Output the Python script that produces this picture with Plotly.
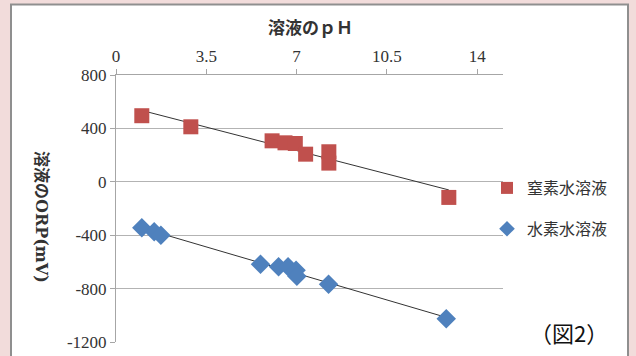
import numpy as np
import plotly.graph_objects as go

# 窒素水溶液 (nitrogen solution)
n2_ph = [1.0, 2.9, 6.05, 6.55, 6.95, 7.35, 8.25, 8.25, 12.9]
n2_orp = [495, 412, 307, 292, 287, 207, 225, 140, -117]
# 水素水溶液 (hydrogen solution)
h2_ph = [1.0, 1.48, 1.74, 5.6, 6.3, 6.67, 6.98, 7.01, 8.24, 12.8]
h2_orp = [-345, -375, -400, -617, -637, -637, -662, -707, -767, -1025]

x_ticks = [0, 3.5, 7, 10.5, 14]
y_ticks = [800, 400, 0, -400, -800, -1200]
y_ticktext = [str(v) for v in y_ticks]

RED = "#c0504d"
BLUE = "#4f81bd"
SERIF = "Liberation Serif"
SERIF_B = "DejaVu Serif, Noto Sans CJK JP, serif"
SANS = "Noto Sans CJK JP, Noto Sans, sans-serif"

W, H = 636, 356
L, R, T, B = 116, 133, 75, 14
pw, ph = W - L - R, H - T - B


def px2paper_x(x):
    return (x - L) / pw


def px2paper_y(y):
    return (H - B - y) / ph


fig = go.Figure()


def trend(xs, ys):
    k, b = np.polyfit(xs, ys, 1)
    xx = np.array([min(xs), max(xs)])
    return xx, k * xx + b


tx, ty = trend(n2_ph, n2_orp)
fig.add_trace(go.Scatter(x=tx, y=ty, mode="lines", line=dict(color="#333333", width=1),
                         showlegend=False, hoverinfo="skip"))
tx, ty = trend(h2_ph, h2_orp)
fig.add_trace(go.Scatter(x=tx, y=ty, mode="lines", line=dict(color="#333333", width=1),
                         showlegend=False, hoverinfo="skip"))

fig.add_trace(go.Scatter(x=n2_ph, y=n2_orp, mode="markers", name="窒素水溶液",
                         legendgroup="a",
                         marker=dict(symbol="square", size=15, color=RED)))
fig.add_trace(go.Scatter(x=h2_ph, y=h2_orp, mode="markers", name="水素水溶液",
                         legendgroup="b",
                         marker=dict(symbol="diamond", size=15, color=BLUE)))

# white chart box with gray border
fig.add_shape(type="rect", xref="paper", yref="paper",
              x0=px2paper_x(11), x1=px2paper_x(628),
              y0=px2paper_y(370), y1=px2paper_y(4.5),
              line=dict(color="#8f8f8f", width=2), fillcolor="white", layer="below")

fig.update_layout(
    width=W, height=H,
    margin=dict(l=L, r=R, t=T, b=B, autoexpand=False),
    paper_bgcolor="#f2dcdb",
    plot_bgcolor="rgba(0,0,0,0)",
    showlegend=True,
    legend=dict(x=px2paper_x(487), y=px2paper_y(171), xanchor="left", yanchor="top",
                font=dict(family=SANS, size=16, color="#333333"),
                bgcolor="rgba(0,0,0,0)", traceorder="grouped", tracegroupgap=17,
                itemsizing="constant"),
    xaxis=dict(side="top", range=[0, 15], tickvals=x_ticks,
               ticktext=[("%g" % v) for v in x_ticks], automargin=False,
               showgrid=False, zeroline=False,
               showline=True, linecolor="#a6a6a6", linewidth=1,
               ticks="outside", ticklen=5, tickcolor="#a6a6a6",
               tickfont=dict(family=SERIF, size=17, color="#333333")),
    yaxis=dict(range=[-1200, 800], tickvals=y_ticks, ticktext=y_ticktext,
               automargin=False,
               showgrid=True, gridcolor="#b3b3b3", gridwidth=1, zeroline=False,
               showline=True, linecolor="#a6a6a6", linewidth=1,
               ticks="outside", ticklen=5, tickcolor="#a6a6a6",
               tickfont=dict(family=SERIF, size=17, color="#333333")),
    annotations=[
        dict(text="<b>溶液のｐＨ</b>", xref="paper", yref="paper",
             x=px2paper_x(310), y=px2paper_y(28), xanchor="center", yanchor="middle",
             showarrow=False,
             font=dict(family=SERIF_B, size=17, color="#333333")),
        dict(text="<b>溶液のORP(mV)</b>", xref="paper", yref="paper",
             x=px2paper_x(42), y=px2paper_y(217), xanchor="center", yanchor="middle",
             showarrow=False, textangle=90,
             font=dict(family=SERIF_B, size=16, color="#333333")),
        dict(text="（図2）", xref="paper", yref="paper",
             x=px2paper_x(569), y=px2paper_y(332), xanchor="center", yanchor="middle",
             showarrow=False,
             font=dict(family=SANS, size=22, color="#111111")),
    ],
)

fig.write_html("out.html", config={"displayModeBar": False},
               post_script="document.body.style.margin='0';document.body.style.background='#f2dcdb';")
